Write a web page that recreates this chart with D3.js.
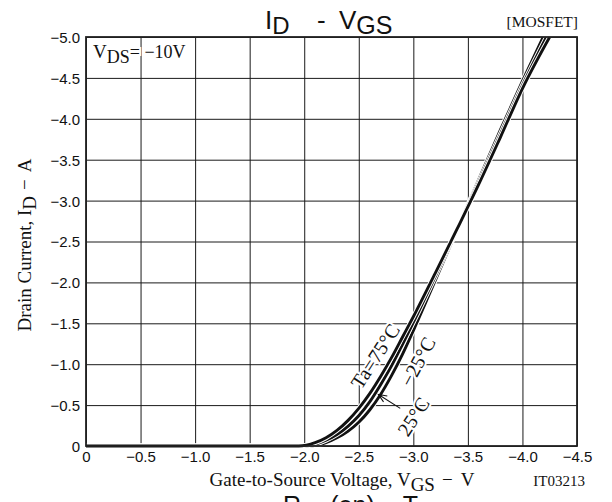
<!DOCTYPE html>
<html>
<head>
<meta charset="utf-8">
<script src="https://cdn.jsdelivr.net/npm/d3@7/dist/d3.min.js"></script>
<style>
body { margin: 0; background: #fff; }
.axis path { display: none; }
.axis .tick line { stroke: #1a1a1a; stroke-width: 1; }
.axis text { font-family: "Liberation Sans", Arial, sans-serif; font-size: 15px; fill: #111; }
.serif { font-family: "Liberation Serif", "Times New Roman", serif; fill: #111; }
.sans { font-family: "Liberation Sans", Arial, sans-serif; fill: #111; }
</style>
</head>
<body>
<div id="chart"></div>
<script>

// gate-source voltage (V) and drain current (A)
var vgs75 = [0, -1.95, -2.1, -2.2, -2.3, -2.4, -2.5, -2.6, -2.7, -2.8, -2.9, -3.0, -3.2, -3.4, -3.6, -3.8, -4.0, -4.25];
var id75  = [0, 0, -0.04, -0.10, -0.19, -0.31, -0.46, -0.64, -0.85, -1.08, -1.33, -1.58, -2.11, -2.65, -3.20, -3.78, -4.37, -5.0];

var vgs25 = [0, -2.0, -2.1, -2.2, -2.3, -2.4, -2.5, -2.6, -2.7, -2.8, -2.9, -3.0, -3.2, -3.4, -3.6, -3.8, -4.0, -4.22];
var id25  = [0, 0, -0.02, -0.07, -0.14, -0.24, -0.37, -0.54, -0.75, -0.98, -1.24, -1.51, -2.07, -2.65, -3.23, -3.82, -4.41, -5.0];

var vgsM25 = [0, -2.05, -2.15, -2.2, -2.3, -2.4, -2.5, -2.6, -2.7, -2.8, -2.9, -3.0, -3.2, -3.4, -3.6, -3.8, -4.0, -4.19];
var idM25  = [0, 0, -0.02, -0.04, -0.10, -0.18, -0.29, -0.44, -0.63, -0.86, -1.12, -1.41, -2.02, -2.64, -3.26, -3.87, -4.46, -5.0];

var xTicks = [0, -0.5, -1.0, -1.5, -2.0, -2.5, -3.0, -3.5, -4.0, -4.5];
var yTicks = [0, -0.5, -1.0, -1.5, -2.0, -2.5, -3.0, -3.5, -4.0, -4.5, -5.0];

var margin = {top: 37, right: 35, bottom: 56, left: 86};
var containerWidth = 612;
var containerHeight = 502;
var chartWidth = containerWidth - margin.left - margin.right;
var chartHeight = containerHeight - margin.top - margin.bottom;

var svg = d3.select('#chart').append('svg')
    .attr('width', containerWidth)
    .attr('height', containerHeight);

var g = svg.append('g')
    .attr('transform', `translate(${margin.left}, ${margin.top})`);

var xScale = d3.scaleLinear()
    .domain([0, -4.5])
    .range([0, chartWidth]);

var yScale = d3.scaleLinear()
    .domain([0, -5])
    .range([chartHeight, 0]);

var fmt = d => d === 0 ? "0" : d3.format(".1f")(d);

// grid via axes
g.append("g")
    .attr("class", "x axis")
    .attr("transform", `translate(0,${chartHeight})`)
    .call(d3.axisBottom(xScale).tickValues(xTicks).tickFormat(fmt).tickSize(-chartHeight).tickPadding(5));

g.append("g")
    .attr("class", "y axis")
    .call(d3.axisLeft(yScale).tickValues(yTicks).tickFormat(fmt).tickSize(-chartWidth).tickPadding(6));

g.selectAll(".y.axis .tick text").attr("dy", "0.36em");

g.append("clipPath").attr("id", "plotclip")
  .append("rect")
    .attr("width", chartWidth)
    .attr("height", chartHeight + 3);

var line = d3.line()
    .x(d => xScale(d[0]))
    .y(d => yScale(d[1]))
    .curve(d3.curveMonotoneX);

var curves = [d3.zip(vgsM25, idM25), d3.zip(vgs25, id25), d3.zip(vgs75, id75)];

var cg = g.append("g").attr("clip-path", "url(#plotclip)");
curves.forEach(function(c){
  cg.append("path")
    .attr("d", line(c))
    .attr("fill", "none")
    .attr("stroke", "#fff")
    .attr("stroke-width", 4.8);
  cg.append("path")
    .attr("d", line(c))
    .attr("fill", "none")
    .attr("stroke", "#111")
    .attr("stroke-width", 2.9);
});

// frame
g.append("rect")
    .attr("width", chartWidth)
    .attr("height", chartHeight)
    .attr("fill", "none")
    .attr("stroke", "#222")
    .attr("stroke-width", 1.8);

// curve labels
function halo(sel){
  return sel.attr("stroke", "#fff").attr("stroke-width", 4).style("paint-order", "stroke");
}

halo(g.append("text").attr("class", "serif")
    .attr("font-size", 20)
    .attr("text-anchor", "middle")
    .attr("transform", `translate(${xScale(-2.65)},${yScale(-1.10)}) rotate(-57)`)
    .attr("dy", "0.35em")
    .text("Ta=75°C"));

halo(g.append("text").attr("class", "serif")
    .attr("font-size", 20)
    .attr("text-anchor", "middle")
    .attr("transform", `translate(${xScale(-3.04)},${yScale(-1.03)}) rotate(-62)`)
    .attr("dy", "0.35em")
    .text("−25°C"));

halo(g.append("text").attr("class", "serif")
    .attr("font-size", 20)
    .attr("text-anchor", "middle")
    .attr("transform", `translate(${xScale(-3.0)},${yScale(-0.36)}) rotate(-57)`)
    .attr("dy", "0.35em")
    .text("25°C"));

// arrow for 25°C
var ax0 = xScale(-2.88), ay0 = yScale(-0.46);
var ax1 = xScale(-2.68), ay1 = yScale(-0.63);
var ang = Math.atan2(ay0 - ay1, ax0 - ax1);
var ah = 9;
g.append("path")
    .attr("d", `M${ax0},${ay0}L${ax1},${ay1}` +
      `M${ax1 + ah*Math.cos(ang+0.4)},${ay1 + ah*Math.sin(ang+0.4)}L${ax1},${ay1}` +
      `L${ax1 + ah*Math.cos(ang-0.4)},${ay1 + ah*Math.sin(ang-0.4)}`)
    .attr("fill", "none")
    .attr("stroke", "#111")
    .attr("stroke-width", 1.1);

// VDS condition
var vds = halo(g.append("text").attr("class", "serif")
    .attr("x", 7)
    .attr("y", 21)
    .attr("font-size", 18));
vds.append("tspan").attr("font-size", 19).text("V");
vds.append("tspan").attr("dy", 5).text("DS");
vds.append("tspan").attr("dy", -5).text("= −10V");

// title
var title = svg.append("text").attr("class", "sans")
    .attr("x", 265)
    .attr("y", 29)
    .attr("font-size", 26);
title.append("tspan").text("I");
title.append("tspan").attr("dy", 5).attr("font-size", 24).text("D");
title.append("tspan").attr("dy", -5).attr("x", 317).text("-");
title.append("tspan").attr("x", 339).text("V");
title.append("tspan").attr("dy", 5).attr("font-size", 25).text("GS");

svg.append("text").attr("class", "serif")
    .attr("x", containerWidth - margin.right + 1)
    .attr("y", 27)
    .attr("text-anchor", "end")
    .attr("font-size", 15.5)
    .text("[MOSFET]");

// axis titles
var xt = svg.append("text").attr("class", "serif")
    .attr("x", 342)
    .attr("y", 486)
    .attr("text-anchor", "middle")
    .attr("font-size", 19);
xt.append("tspan").text("Gate-to-Source Voltage, V");
xt.append("tspan").attr("dy", 5).text("GS");
xt.append("tspan").attr("dy", -5).attr("dx", 7).text("−");
xt.append("tspan").attr("dx", 8).text("V");

svg.append("text").attr("class", "serif")
    .attr("x", 585)
    .attr("y", 486)
    .attr("text-anchor", "end")
    .attr("font-size", 15)
    .text("IT03213");

var yt = svg.append("text").attr("class", "serif")
    .attr("transform", `translate(31,245) rotate(-90)`)
    .attr("text-anchor", "middle")
    .attr("font-size", 19);
yt.append("tspan").text("Drain Current, I");
yt.append("tspan").attr("dy", 5).text("D");
yt.append("tspan").attr("dy", -5).attr("dx", 6).text("−");
yt.append("tspan").attr("dx", 7).text("A");

// next chart's title, cut by the page edge (as in the source)
var nt = svg.append("text").attr("class", "sans")
    .attr("x", 283)
    .attr("y", 514)
    .attr("font-size", 25);
nt.append("tspan").text("R");
nt.append("tspan").attr("dy", 5).attr("font-size", 21).text("DS");
nt.append("tspan").attr("dy", -5).text("(on)  −  T");
nt.append("tspan").attr("font-size", 21).text("a");

</script>
</body>
</html>
